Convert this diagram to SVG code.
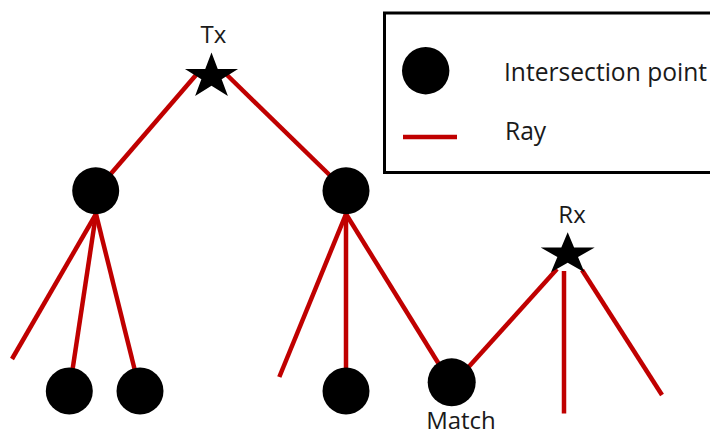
<svg xmlns="http://www.w3.org/2000/svg" xmlns:xlink="http://www.w3.org/1999/xlink" width="710" height="436" viewBox="0 0 710 436">
<style>
.ray{stroke:#C00000;stroke-width:4.5;fill:none}
.pt{fill:#000}
.lbl{font-family:"Open Sans","Liberation Sans",sans-serif;font-size:24px;fill:#1a1a1a}
.leg{font-size:24.6px}
</style>
<defs>
<polygon id="star" points="0,-1 0.2245,-0.309 0.9511,-0.309 0.3633,0.118 0.5878,0.809 0,0.382 -0.5878,0.809 -0.3633,0.118 -0.9511,-0.309 -0.2245,-0.309" fill="#000"/>
</defs>
<rect width="710" height="436" fill="#fff"/>
<g id="legend">
<rect x="384.5" y="13" width="340" height="159.5" fill="#fff" stroke="#000" stroke-width="3"/>
<circle class="pt" cx="425.7" cy="70.7" r="23.7"/>
<text class="lbl leg" x="504" y="81">Intersection point</text>
<line class="ray" x1="403" y1="137" x2="457" y2="137"/>
<text class="lbl leg" x="505" y="140">Ray</text>
</g>
<g id="connectors">
<line class="ray" x1="196" y1="75" x2="96" y2="191"/>
<line class="ray" x1="227" y1="75" x2="346" y2="191"/>
<line class="ray" x1="96" y1="214" x2="12" y2="359"/>
<line class="ray" x1="96" y1="214" x2="69.3" y2="391"/>
<line class="ray" x1="96" y1="214" x2="140" y2="391"/>
<line class="ray" x1="346" y1="214" x2="279.3" y2="377"/>
<line class="ray" x1="346" y1="214" x2="346" y2="391"/>
<line class="ray" x1="346" y1="214" x2="450" y2="382"/>
<line class="ray" x1="557" y1="269" x2="455" y2="382"/>
<line class="ray" x1="564" y1="271" x2="564" y2="413.5"/>
<line class="ray" x1="582" y1="270" x2="662" y2="395"/>
</g>
<g id="tx">
<use xlink:href="#star" transform="translate(211.5,76.5) scale(27.9,24)"/>
<text class="lbl" x="213.5" y="42.7" text-anchor="middle">Tx</text>
</g>
<g id="rx">
<use xlink:href="#star" transform="translate(567.7,254.4) scale(28.4,22.1)"/>
<text class="lbl" x="572" y="222.7" text-anchor="middle">Rx</text>
</g>
<g id="nodeA"><circle class="pt" cx="95.7" cy="190.7" r="23.5"/></g>
<g id="nodeB"><circle class="pt" cx="346" cy="190.7" r="23.5"/></g>
<g id="nodeA1"><circle class="pt" cx="69.3" cy="391" r="23.5"/></g>
<g id="nodeA2"><circle class="pt" cx="140" cy="391" r="23.5"/></g>
<g id="nodeB1"><circle class="pt" cx="346" cy="391" r="23.5"/></g>
<g id="match">
<circle class="pt" cx="451.7" cy="382.3" r="24"/>
<text class="lbl" x="461" y="428.5" text-anchor="middle">Match</text>
</g>
</svg>
